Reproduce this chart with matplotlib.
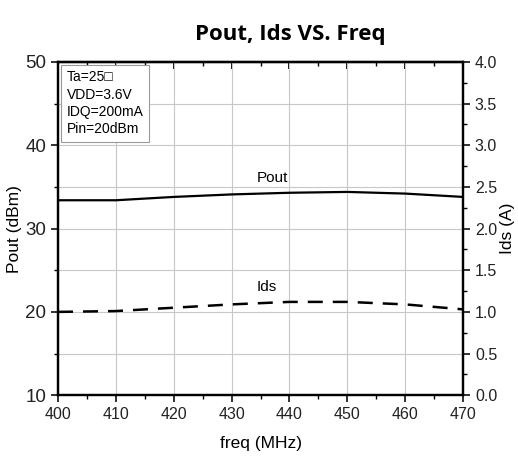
import numpy as np
import matplotlib
matplotlib.use('Agg')
from matplotlib import pyplot as plt
from matplotlib.ticker import MultipleLocator

freq = [400, 410, 420, 430, 440, 450, 460, 470]
pout = [33.4, 33.4, 33.8, 34.1, 34.3, 34.4, 34.2, 33.8]
ids = [1.00, 1.01, 1.05, 1.09, 1.12, 1.12, 1.09, 1.03]
pout_ticks = [10, 20, 30, 40, 50]
cond_text = "Ta=25\u25a1\nVDD=3.6V\nIDQ=200mA\nPin=20dBm"

plt.rcParams['font.family'] = ['Liberation Sans', 'DejaVu Sans']

fig = plt.figure(figsize=(5.18, 4.59), dpi=100)
ax = fig.add_axes([0.112, 0.139, 0.782, 0.726])
ax2 = ax.twinx()

ax.plot(freq, pout, 'k-', lw=1.6)
ax2.plot(freq, ids, 'k--', lw=1.8, dashes=(6, 4))

ax.xaxis.set_major_locator(MultipleLocator(10))
ax.xaxis.set_minor_locator(MultipleLocator(5))
ax.set_yticks(pout_ticks)
ax.set_yticklabels([str(v) for v in pout_ticks], fontsize=13.5)
ax.yaxis.set_minor_locator(MultipleLocator(5))
ax2.yaxis.set_major_locator(MultipleLocator(0.5))
ax2.yaxis.set_minor_locator(MultipleLocator(0.25))
ax2.yaxis.set_major_formatter(plt.FormatStrFormatter('%.1f'))
ax.set_xlim(400, 470)
ax.set_ylim(10, 50)
ax2.set_ylim(0, 4)

ax.grid(True, which='major', axis='x', color='#c8c8c8', lw=0.8)
ax.grid(True, which='minor', axis='y', color='#c8c8c8', lw=0.8)
ax.grid(True, which='major', axis='y', color='#c8c8c8', lw=0.8)

for a in (ax, ax2):
    for s in a.spines.values():
        s.set_linewidth(1.6)
ax.tick_params(axis='both', which='major', direction='out', length=5, width=1.3, labelsize=11.5, colors='#222222')
ax.tick_params(axis='y', which='major', labelsize=13.5)
ax.tick_params(axis='both', which='minor', direction='out', length=3, width=1.0)
top = ax.secondary_xaxis('top')
top.xaxis.set_major_locator(MultipleLocator(10))
top.xaxis.set_minor_locator(MultipleLocator(5))
top.tick_params(axis='x', which='major', direction='in', labeltop=False, length=5, width=1.3)
top.tick_params(axis='x', which='minor', direction='in', length=3, width=1.0)
top.spines['top'].set_linewidth(1.6)
ax2.tick_params(axis='y', which='major', direction='out', length=5, width=1.3, labelsize=11.5, colors='#222222')
ax2.tick_params(axis='y', which='minor', direction='out', length=3, width=1.0)

ax.set_xlabel('freq (MHz)', fontsize=12.5, labelpad=10)
ax.set_ylabel('Pout (dBm)', fontsize=12.5, labelpad=2)
ax2.set_ylabel('Ids (A)', fontsize=12.5, labelpad=2)

ax.text(437, 35.2, 'Pout', fontsize=11, ha='center', va='bottom')
ax2.text(436, 1.22, 'Ids', fontsize=11, ha='center', va='bottom')
ax.text(401.5, 49.0, cond_text, fontsize=10, va='top', ha='left', linespacing=1.3,
        bbox=dict(boxstyle='square,pad=0.4', fc='white', ec='#999999', lw=0.8),
        family=['Liberation Sans', 'DejaVu Sans'])

fig.text(0.56, 0.925, 'Pout, Ids VS. Freq', fontsize=16, fontweight='bold',
         ha='center', va='center', family=['Open Sans', 'DejaVu Sans'])

fig.savefig('out.png', dpi=100)
